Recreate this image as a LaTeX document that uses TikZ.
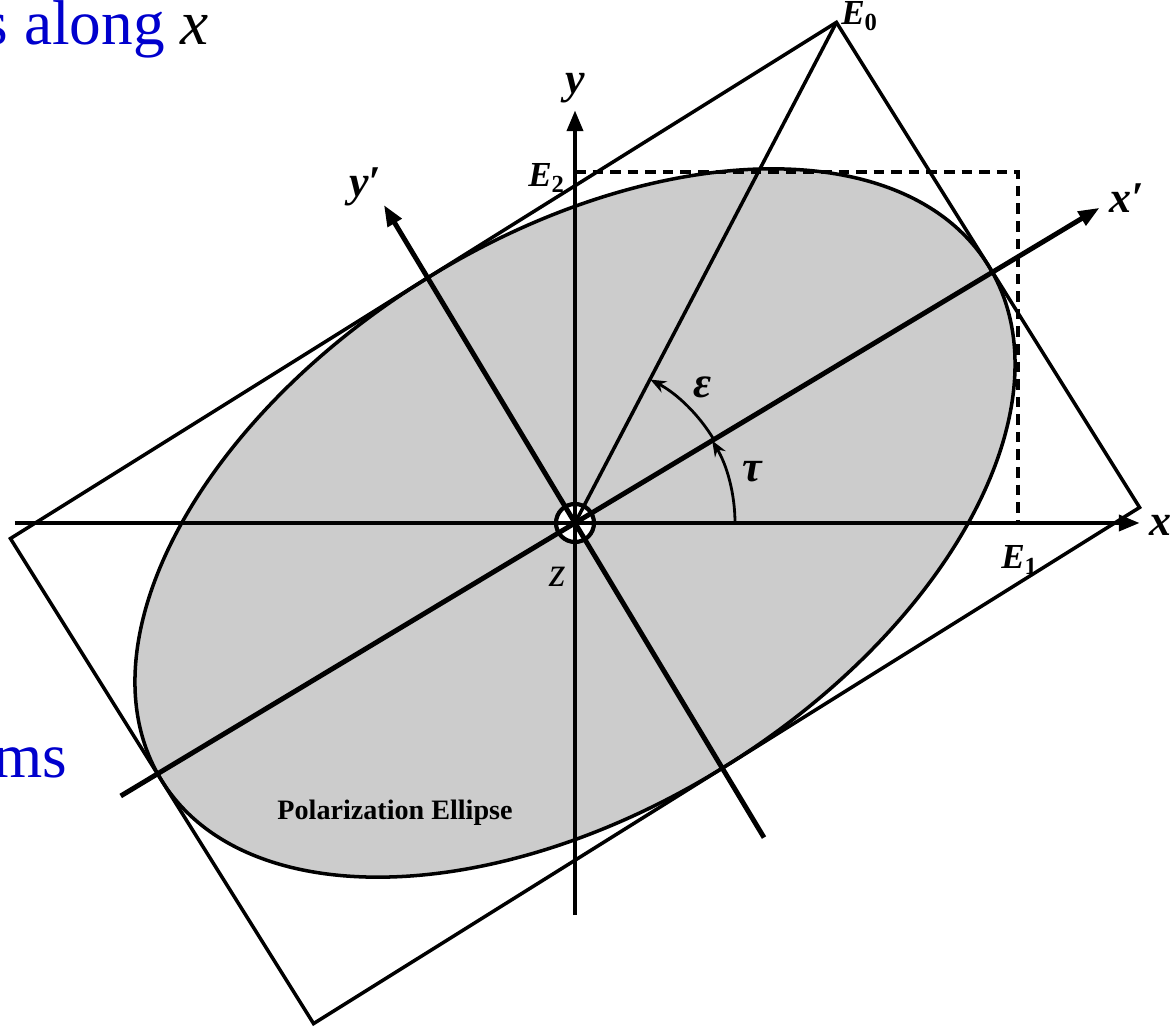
\documentclass[tikz,border=0pt]{standalone}
\usepackage{fontspec}
\setmainfont{Liberation Serif}
\usetikzlibrary{arrows.meta,calc}
\definecolor{sblue}{RGB}{0,0,205}
\definecolor{egray}{RGB}{204,204,204}

\begin{document}
\begin{tikzpicture}[
    axisline/.style={line width=1.4pt,-{Triangle[length=6pt,width=4.4pt]}},
    frameline/.style={line width=1pt},
    anglearc/.style={line width=0.8pt,-{Stealth[length=4.5pt,width=3.5pt]}},
    lab/.style={font=\fontsize{12.5}{14}\selectfont\bfseries\itshape},
    elab/.style={font=\fontsize{10}{12}\selectfont\bfseries\itshape},
    slide/.style={font=\fontsize{18}{20}\selectfont,text=sblue,inner sep=0pt}]
  \clip (-5.75,-5.05) rectangle (5.97,5.23);
  \coordinate (O) at (0,0);
  % ellipse and its bounding rectangle, tilted by tau
  \begin{scope}[rotate=32]
    \coordinate (E0) at (4.87,2.86);
    \coordinate (R) at (4.87,-2.86);
    \coordinate (B) at (-4.87,-2.86);
    \coordinate (L) at (-4.87,2.86);
    \draw[frameline,fill=egray] (O) ellipse (4.87 and 2.86);
  \end{scope}
  \begin{scope}[rotate=31]
    \coordinate (xp1) at (-5.3,0);
    \coordinate (xp2) at (6.12,0);
    \coordinate (yp1) at (0,-3.67);
    \coordinate (yp2) at (0,3.71);
  \end{scope}
  \draw[frameline] (E0) -- (R) -- (B) -- (L) -- cycle;
  % projections on x and y
  \coordinate (E2) at (0,3.51);
  \coordinate (E1) at (4.43,0);
  \coordinate (Q) at (4.43,3.51);
  \draw[line width=0.9pt,dash pattern=on 3pt off 2pt] (E2) -- (Q) -- (E1);
  \draw[line width=1.2pt,fill=white] (O) circle (0.19);
  \draw[frameline] (O) -- (E0);
  % axes
  \coordinate (xl) at (-5.6,0);
  \coordinate (xr) at (5.65,0);
  \coordinate (yb) at (0,-3.92);
  \coordinate (yt) at (0,4.13);
  \draw[axisline] (xl) -- (xr);
  \draw[axisline] (yb) -- (yt);
  \draw[axisline] (xp1) -- (xp2);
  \draw[axisline] (yp1) -- (yp2);
  % angles
  \coordinate (t0) at (0:1.6);
  \coordinate (e0) at (31:1.62);
  \draw[anglearc] (t0) arc[start angle=0,end angle=31,radius=1.6];
  \draw[anglearc] (e0) arc[start angle=31,end angle=62.3,radius=1.62];
  \node[lab] (tau) at (1.77,0.51) {τ};
  \node[lab] (eps) at (1.28,1.36) {ε};
  % labels
  \node[lab] (xlab) at (5.85,-0.02) {x};
  \node[lab] (ylab) at (0,4.35) {y};
  \node[lab] (xplab) at (5.52,3.25) {x′};
  \node[lab] (yplab) at (-2.1,3.36) {y′};
  \node[font=\fontsize{12}{14}\selectfont\itshape] (zlab) at (-0.17,-0.54) {z};
  \node[elab] (E0lab) at (2.85,5.07) {E\textsubscript{\upshape 0}};
  \node[elab] (E2lab) at (-0.28,3.45) {E\textsubscript{\upshape 2}};
  \node[elab] (E1lab) at (4.45,-0.37) {E\textsubscript{\upshape 1}};
  \node[font=\fontsize{8}{10}\selectfont\bfseries] (plab) at (-1.8,-2.9) {Polarization Ellipse};
  % cut-off slide text
  \node[slide,anchor=base west] (s1) at (-5.92,4.78) {s along \textcolor{black}{\itshape x}};
  \node[slide,anchor=base east] (s2) at (-5.07,-2.55) {ms};
\end{tikzpicture}
\end{document}
